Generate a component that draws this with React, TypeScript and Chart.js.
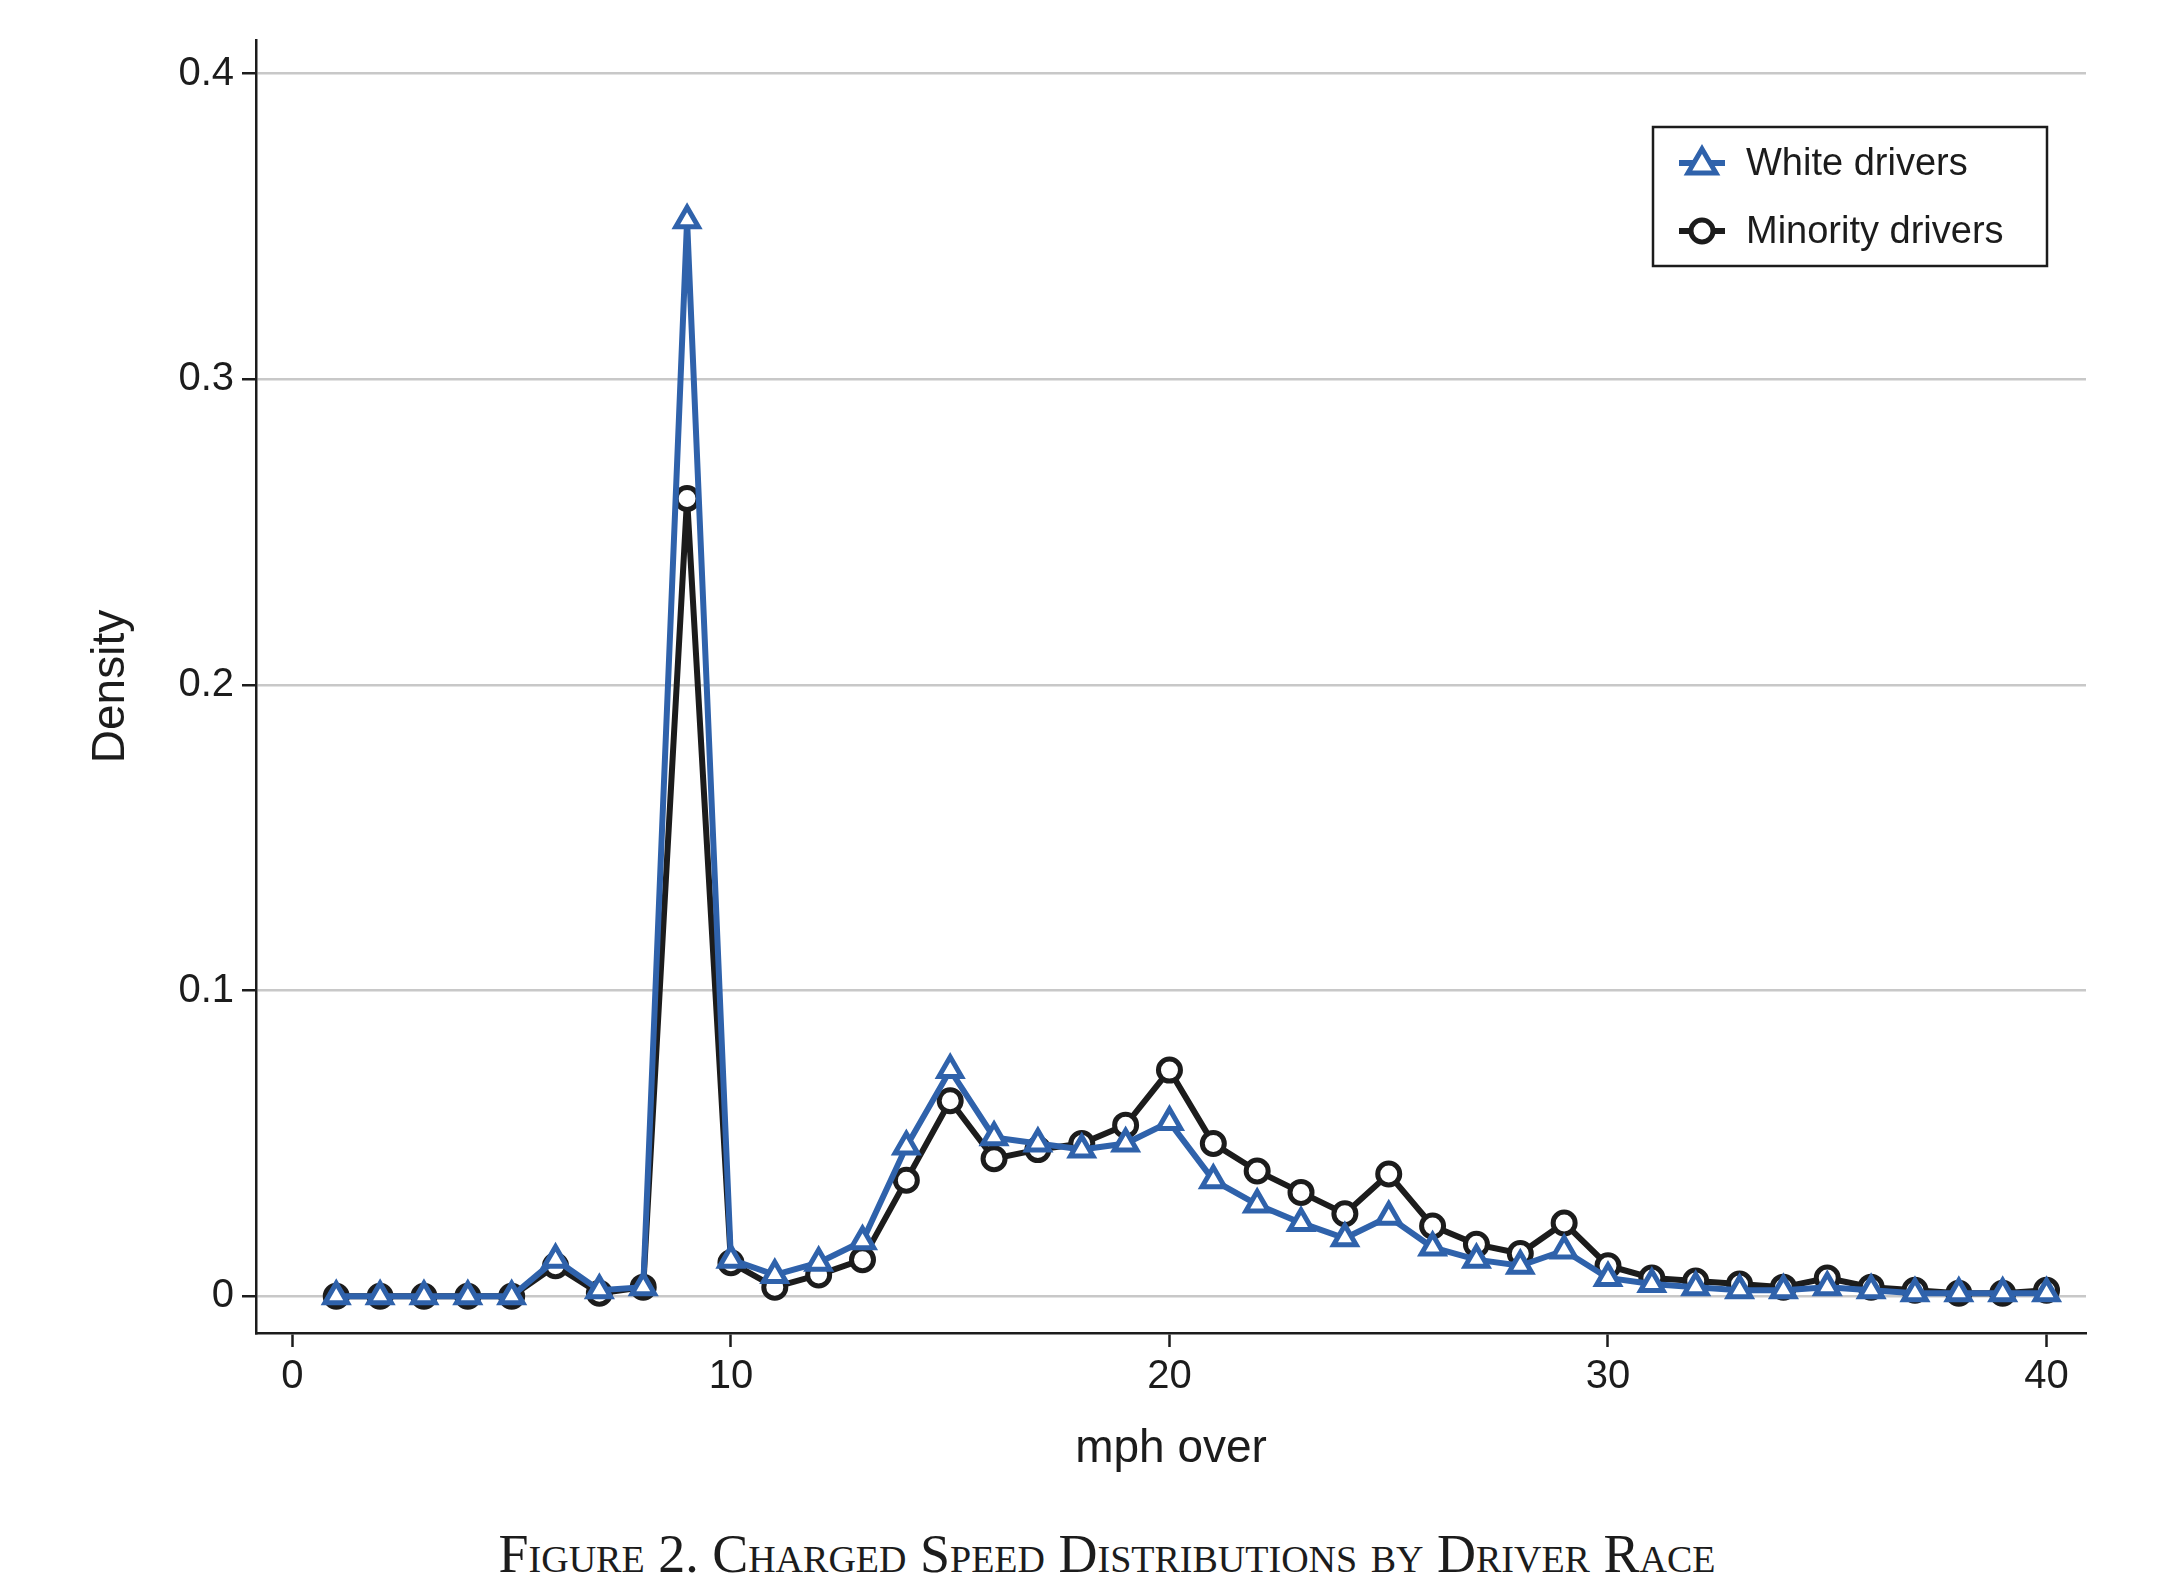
import { Chart, registerables } from "chart.js";
import { useEffect, useRef } from "react";

Chart.register(...registerables);

const mph = Array.from({ length: 40 }, (_, i) => i + 1);
const whiteDrivers = [0, 0, 0, 0, 0, 0.012, 0.002, 0.003, 0.352, 0.012, 0.007, 0.011, 0.018, 0.049, 0.074, 0.052, 0.05, 0.048, 0.05, 0.057, 0.038, 0.03, 0.024, 0.019, 0.026, 0.016, 0.012, 0.01, 0.015, 0.006, 0.004, 0.003, 0.002, 0.002, 0.003, 0.002, 0.001, 0.001, 0.001, 0.001];
const minorityDrivers = [0, 0, 0, 0, 0, 0.01, 0.001, 0.003, 0.261, 0.011, 0.003, 0.007, 0.012, 0.038, 0.064, 0.045, 0.048, 0.05, 0.056, 0.074, 0.05, 0.041, 0.034, 0.027, 0.04, 0.023, 0.017, 0.014, 0.024, 0.01, 0.006, 0.005, 0.004, 0.003, 0.006, 0.003, 0.002, 0.001, 0.001, 0.002];
const yTicks = [0, 0.1, 0.2, 0.3, 0.4];
const xTicks = [0, 10, 20, 30, 40];

const BLUE = "#2f62ab";
const BLACK = "#1c1c1c";
const FONT = "'Liberation Sans', Arial, sans-serif";

// legend box drawn by hand, Stata style
const legendPlugin = {
    id: "stataLegend",
    afterDraw(chart: Chart) {
        const ctx = chart.ctx;
        const x = 1645, y = 119, w = 394, h = 139;
        ctx.save();
        ctx.strokeStyle = BLACK;
        ctx.lineWidth = 2.5;
        ctx.strokeRect(x, y, w, h);
        const items = [
            { label: "White drivers", color: BLUE, shape: "tri" },
            { label: "Minority drivers", color: BLACK, shape: "circ" },
        ];
        items.forEach((it, i) => {
            const cy = y + 36 + i * 68;
            ctx.strokeStyle = it.color;
            ctx.lineWidth = 6;
            ctx.beginPath();
            ctx.moveTo(x + 26, cy);
            ctx.lineTo(x + 72, cy);
            ctx.stroke();
            ctx.lineWidth = 5;
            ctx.fillStyle = "#fff";
            ctx.beginPath();
            if (it.shape === "tri") {
                ctx.moveTo(x + 49, cy - 14);
                ctx.lineTo(x + 63, cy + 10);
                ctx.lineTo(x + 35, cy + 10);
                ctx.closePath();
            } else {
                ctx.arc(x + 49, cy, 11, 0, Math.PI * 2);
            }
            ctx.fill();
            ctx.stroke();
            ctx.fillStyle = BLACK;
            ctx.font = `38px ${FONT}`;
            ctx.textBaseline = "middle";
            ctx.fillText(it.label, x + 93, cy + 2);
        });
        ctx.restore();
    },
};

export default function App() {
    const canvasRef = useRef<HTMLCanvasElement | null>(null);
    const chartRef = useRef<Chart | null>(null);

    useEffect(() => {
        const ctx = canvasRef.current?.getContext("2d");
        if (chartRef.current) chartRef.current.destroy();

        chartRef.current = new Chart(ctx!, {
            type: "line",
            data: {
                datasets: [
                    {
                        label: "White drivers",
                        data: mph.map((m, i) => ({ x: m, y: whiteDrivers[i] })),
                        borderColor: BLUE,
                        backgroundColor: "#fff",
                        borderWidth: 6,
                        pointStyle: "triangle",
                        pointRadius: 13,
                        pointBorderWidth: 5,
                    },
                    {
                        label: "Minority drivers",
                        data: mph.map((m, i) => ({ x: m, y: minorityDrivers[i] })),
                        borderColor: BLACK,
                        backgroundColor: "#fff",
                        borderWidth: 6,
                        pointStyle: "circle",
                        pointRadius: 11,
                        pointBorderWidth: 5,
                    },
                ],
            },
            options: {
                animation: false,
                responsive: false,
                layout: { padding: { left: 72, right: 90, top: 27, bottom: 0 } },
                plugins: { legend: { display: false }, tooltip: { enabled: false } },
                scales: {
                    x: {
                        type: "linear",
                        min: -0.83,
                        max: 40.9,
                        afterBuildTicks: (s: any) => { s.ticks = xTicks.map((v) => ({ value: v })); },
                        afterFit: (s: any) => { s.height = 150; },
                        grid: { drawOnChartArea: false, tickLength: 14, tickWidth: 2.5, color: BLACK },
                        border: { color: BLACK, width: 2.5 },
                        ticks: { color: BLACK, font: { family: FONT, size: 40 }, padding: 6 },
                        title: { display: true, text: "mph over", color: BLACK, font: { family: FONT, size: 46 }, padding: { top: 0, bottom: 6 } },
                    },
                    y: {
                        min: -0.012,
                        max: 0.411,
                        afterBuildTicks: (s: any) => { s.ticks = yTicks.map((v) => ({ value: v })); },
                        afterFit: (s: any) => { s.width = 176; },
                        grid: { color: "#c8c8c8", lineWidth: 2.5, tickLength: 14, tickColor: BLACK, tickWidth: 2.5 } as any,
                        border: { color: BLACK, width: 2.5 },
                        ticks: { color: BLACK, font: { family: FONT, size: 40 }, padding: 8, callback: (v: any) => String(v) },
                        title: { display: true, text: "Density", color: BLACK, font: { family: FONT, size: 46 }, padding: { bottom: 0 } },
                    },
                },
            },
            plugins: [legendPlugin],
        });

        return () => {
            if (chartRef.current) {
                chartRef.current.destroy();
                chartRef.current = null;
            }
        };
    }, []);

    return (
        <div style={{ width: 2168, background: "#fff" }}>
            <canvas ref={canvasRef} width={2168} height={1475} style={{ display: "block" }} />
            <div
                style={{
                    marginTop: 40,
                    textAlign: "center",
                    paddingLeft: 30,
                    fontFamily: "'Liberation Serif', 'DejaVu Serif', serif",
                    fontVariant: "small-caps",
                    fontSize: 54,
                    color: BLACK,
                }}
            >
                Figure 2. Charged Speed Distributions by Driver Race
            </div>
        </div>
    );
}
